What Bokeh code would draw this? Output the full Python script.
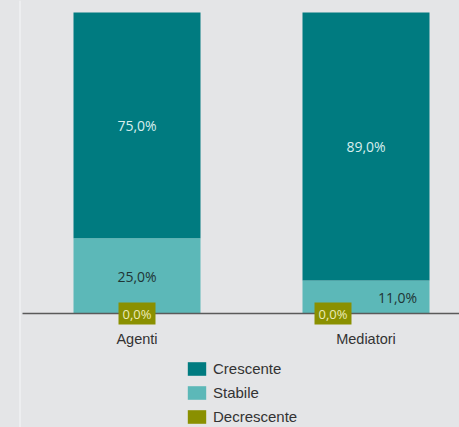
from bokeh.plotting import figure
from bokeh.models import (ColumnDataSource, Range1d, LabelSet, Legend, LegendItem, Span)
from bokeh.core.properties import value
from bokeh.embed import file_html
from bokeh.resources import INLINE

# ---- data ----
categories = ["Agenti", "Mediatori"]
crescente = [75.0, 89.0]
stabile = [25.0, 11.0]
decrescente = [0.0, 0.0]
series_names = ["Crescente", "Stabile", "Decrescente"]

# ---- styles ----
BG = "#e4e5e7"
C_CRES = "#007b80"
C_STAB = "#5cb8b8"
C_DEC = "#8a9000"
W, H = 459, 427
X0, X1 = -0.5961, 1.4083
Y0, Y1 = -37.87, 103.99

def fmt(v):
    return f"{v:.1f}".replace(".", ",") + "%"

idx = list(range(len(categories)))
src = ColumnDataSource(dict(x=idx, Decrescente=decrescente, Stabile=stabile,
                            Crescente=crescente))

p = figure(width=W, height=H, output_backend="svg", toolbar_location=None,
           x_range=Range1d(X0, X1), y_range=Range1d(Y0, Y1),
           min_border=0, x_axis_type=None, y_axis_type=None)
p.background_fill_color = BG
p.border_fill_color = BG
p.outline_line_color = None
p.grid.visible = False

rs = p.vbar_stack(["Decrescente", "Stabile", "Crescente"], x="x", width=0.5546,
                  color=[C_DEC, C_STAB, C_CRES], line_color=None, source=src)

# faint left border line
px = (X1 - X0) / W
p.add_layout(Span(location=X0 + 19.5 * px, dimension="height",
                  line_color="#f1f1f3", line_width=1.5))

# baseline (category axis line)
p.segment(x0=[min(idx) - 0.5], y0=[0], x1=[X1], y1=[0],
          line_color="#5a5a5a", line_width=1.5)

# category labels
cat_src = ColumnDataSource(dict(x=idx, y=[0] * len(idx), t=categories))
p.add_layout(LabelSet(x="x", y="y", text="t", source=cat_src, y_offset=-25,
                      text_font=value("Liberation Sans"), text_font_size="14.5px",
                      text_color="#333333", text_align="center",
                      text_baseline="middle"))

# ---- value labels ----
cres_y = [d + s + c / 2 for d, s, c in zip(decrescente, stabile, crescente)]
stab_y = [d + s / 2 for d, s in zip(decrescente, stabile)]
small = [s < 15 for s in stabile]
stab_dx = [31.5 if sm else 0 for sm in small]
dec_dx = [-33 if sm else 0 for sm in small]

lab_c = ColumnDataSource(dict(x=idx, y=cres_y, t=[fmt(v) for v in crescente]))
lab_s = ColumnDataSource(dict(x=idx, y=stab_y, t=[fmt(v) for v in stabile], dx=stab_dx))
lab_d = ColumnDataSource(dict(x=idx, y=decrescente, t=[fmt(v) for v in decrescente], dx=dec_dx))

common = dict(text_font=value("Open Sans"), text_font_size="14px", text_align="center",
              text_baseline="middle")
p.add_layout(LabelSet(x="x", y="y", text="t", source=lab_c, text_color="#d8eeee", **common))
p.add_layout(LabelSet(x="x", y="y", text="t", source=lab_s, x_offset="dx",
                      y_offset=-1, text_color="#1f3535", **common))
p.text(x="x", y="y", text="t", source=lab_d, x_offset="dx",
       text_font=value("Open Sans"), text_font_size="13px", text_align="center",
       text_baseline="middle", text_color="#ecebb8",
       background_fill_color=C_DEC, padding=(4, 2))

# ---- legend ----
rmap = {"Decrescente": rs[0], "Stabile": rs[1], "Crescente": rs[2]}
legend = Legend(items=[LegendItem(label=n, renderers=[rmap[n]]) for n in series_names],
                location=(185, 2), orientation="vertical")
legend.glyph_width = 23
legend.glyph_height = 17
legend.label_height = 17
legend.spacing = 7
legend.padding = 0
legend.margin = 0
legend.label_standoff = 5
legend.border_line_color = None
legend.background_fill_alpha = 0
legend.label_text_font = "Liberation Sans"
legend.label_text_font_size = "15px"
legend.label_text_color = "#333333"
p.add_layout(legend)

html = file_html(p, INLINE)
html = html.replace("<head>", "<head><style>body{background:%s;}</style>" % BG, 1)
open("out.html", "w").write(html)
